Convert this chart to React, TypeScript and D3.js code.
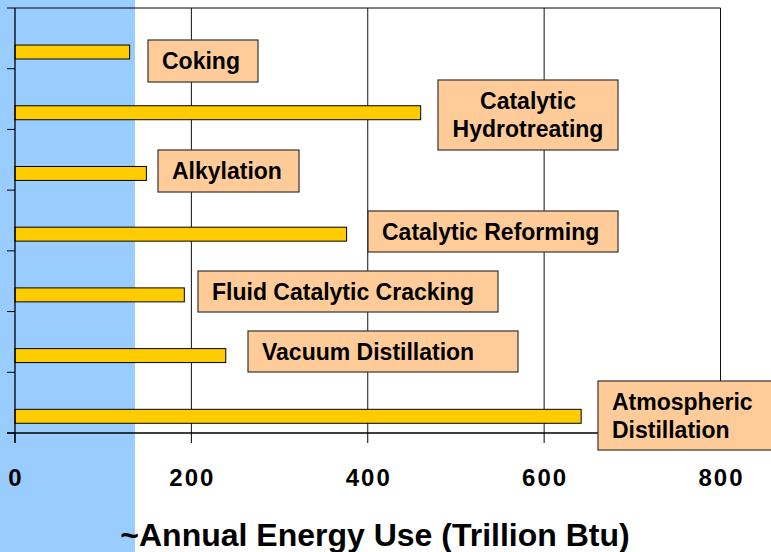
import React from "react";
import * as d3 from "d3";

const categories = [
  "Coking",
  "Catalytic Hydrotreating",
  "Alkylation",
  "Catalytic Reforming",
  "Fluid Catalytic Cracking",
  "Vacuum Distillation",
  "Atmospheric Distillation",
];
const energyUse = [130, 460, 149, 376, 192, 239, 642];
const labelLines = [
  ["Coking"],
  ["Catalytic", "Hydrotreating"],
  ["Alkylation"],
  ["Catalytic Reforming"],
  ["Fluid Catalytic Cracking"],
  ["Vacuum Distillation"],
  ["Atmospheric", "Distillation"],
];
const xTicks = [0, 200, 400, 600, 800];
const axisTitle = "~Annual Energy Use (Trillion Btu)";

// annotation box layout (pixels)
const labelBoxes = [
  { x: 148, y: 40, w: 110, h: 42, center: false },
  { x: 438, y: 80, w: 180, h: 70, center: true },
  { x: 158, y: 150, w: 141, h: 42, center: false },
  { x: 368, y: 211, w: 250, h: 41, center: false },
  { x: 198, y: 271, w: 300, h: 41, center: false },
  { x: 248, y: 331, w: 270, h: 41, center: false },
  { x: 598, y: 381, w: 190, h: 69, center: false },
];

const W = 771;
const H = 552;
const FONT = "'Liberation Sans', Arial, sans-serif";

export default function App() {
  const x = d3.scaleLinear().domain([0, 800]).range([15, 720.5]);
  const y = d3.scaleBand<string>().domain(categories).range([8, 433]).padding(0);
  const bw = y.bandwidth();
  const x0 = x(0);
  const xMax = x(800);
  const yTop = 8;
  const yBot = 433;
  const boundaries = d3.range(categories.length + 1).map((i) => yTop + i * bw);

  return (
    <div style={{ position: "absolute", left: 0, top: 0 }}>
      <svg width={W} height={H} style={{ display: "block", background: "#fff" }}>
        <rect x={0} y={0} width={135} height={H} fill="#99CCFF" />
        {/* gridlines */}
        {xTicks.slice(1).map((t) => (
          <line key={"g" + t} x1={x(t)} x2={x(t)} y1={yTop} y2={yBot} stroke="#111" strokeWidth={1} />
        ))}
        {/* top border */}
        <line x1={x0} x2={xMax} y1={yTop} y2={yTop} stroke="#000" strokeWidth={1} />
        {/* bars */}
        {categories.map((c, i) => (
          <rect
            key={c}
            x={x0}
            y={(y(c) as number) + bw * 0.61}
            width={x(energyUse[i]) - x0}
            height={bw * 0.23}
            fill="#FFCC00"
            stroke="#000"
            strokeWidth={1}
          />
        ))}
        {/* axes */}
        <line x1={x0} x2={x0} y1={yTop} y2={yBot + 10} stroke="#000" strokeWidth={1.3} />
        <line x1={7} x2={xMax} y1={yBot} y2={yBot} stroke="#000" strokeWidth={1.3} />
        {boundaries.map((b, i) => (
          <line key={"yt" + i} x1={7} x2={x0} y1={b} y2={b} stroke="#000" strokeWidth={1} />
        ))}
        {xTicks.map((t) => (
          <line key={"xt" + t} x1={x(t)} x2={x(t)} y1={yBot} y2={yBot + 10} stroke="#000" strokeWidth={1} />
        ))}
        {xTicks.map((t) => (
          <text
            key={"xl" + t}
            x={x(t) + 1}
            y={486}
            textAnchor="middle"
            fontFamily={FONT}
            fontWeight="bold"
            fontSize={24}
            letterSpacing={2}
            fill="#000"
          >
            {t}
          </text>
        ))}
        {/* label boxes */}
        {labelBoxes.map((b, i) => (
          <g key={"lb" + i}>
            <rect x={b.x} y={b.y} width={b.w} height={b.h} fill="#FFCC99" stroke="#333" strokeWidth={1.2} />
            {labelLines[i].map((ln, j) => (
              <text
                key={j}
                x={b.center ? b.x + b.w / 2 : b.x + 14}
                y={b.y + 29 + j * 28}
                textAnchor={b.center ? "middle" : "start"}
                fontFamily={FONT}
                fontWeight="bold"
                fontSize={23}
                fill="#000"
              >
                {ln}
              </text>
            ))}
          </g>
        ))}
        <text
          x={375}
          y={546}
          textAnchor="middle"
          fontFamily={FONT}
          fontWeight="bold"
          fontSize={32}
          fill="#000"
        >
          {axisTitle}
        </text>
      </svg>
    </div>
  );
}
